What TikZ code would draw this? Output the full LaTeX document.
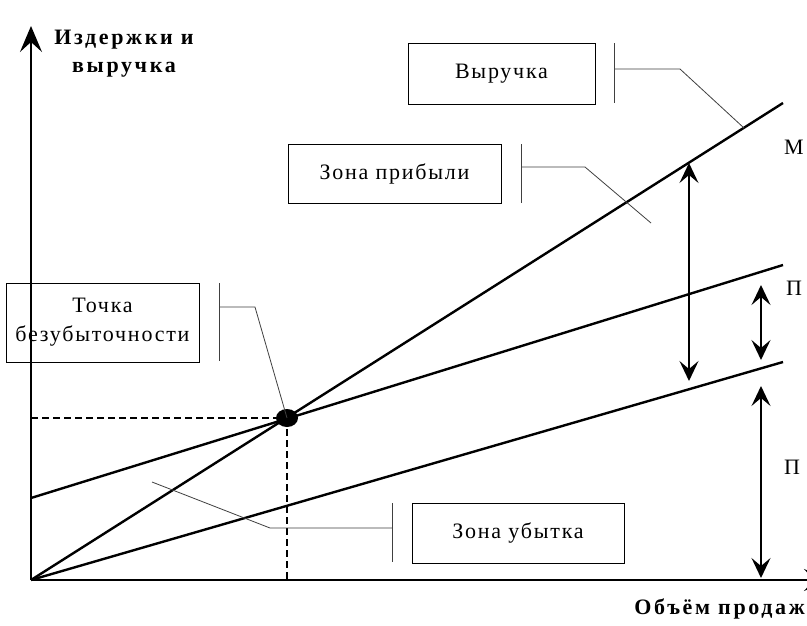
\documentclass[tikz,border=0pt]{standalone}
\usepackage{fontspec}
\setmainfont{Liberation Serif}
\newfontfamily\boxfont[LetterSpace=8]{Liberation Serif}
\newfontfamily\axfont[LetterSpace=12]{Liberation Serif}
\usetikzlibrary{arrows.meta}
\tikzset{
  mainline/.style={line width=2.4pt},
  axisline/.style={line width=1.2pt},
  callout/.style={line width=0.8pt, draw=black!75},
  boxnode/.style={draw, line width=1pt, inner sep=0pt, align=center,
    font=\boxfont\fontsize{22}{29}\selectfont},
  axlabel/.style={font=\axfont\bfseries\fontsize{22}{28}\selectfont, align=center, inner sep=0pt},
  zlabel/.style={font=\fontsize{22}{24}\selectfont, anchor=west, inner sep=0pt},
  dbl/.style={line width=1.9pt, {Stealth[length=20pt,width=19pt,inset=8pt]}-{Stealth[length=20pt,width=19pt,inset=8pt]}},
  axtip/.style={-{Stealth[length=26pt,width=22pt,inset=10pt]}},
  dashline/.style={line width=1.3pt, dash pattern=on 7pt off 4pt}
}
\begin{document}
\begin{tikzpicture}[x=1pt,y=-1pt]
\useasboundingbox (0,0) rectangle (807,625);
\clip (0,0) rectangle (807,625);
\fill[white] (0,0) rectangle (807,625);
% key points
\coordinate (O) at (31,580);
\coordinate (ytop) at (31,26);
\coordinate (xend) at (830,580);
\coordinate (R) at (783,103);
\coordinate (F) at (31,498);
\coordinate (T) at (783,265);
\coordinate (V) at (783,362);
\coordinate (ybep) at (31,418);
\coordinate (xbep) at (287,580);
% axes
\draw[axisline, axtip] (O) -- (ytop);
\draw[axisline, axtip] (O) -- (xend);
% main lines
\draw[mainline] (O) -- (R);
\draw[mainline] (F) -- (T);
\draw[mainline] (O) -- (V);
% break-even point
\coordinate (bep) at (287,418);
\fill (bep) ellipse [x radius=11pt, y radius=9pt];
\draw[dashline] (ybep) -- (bep);
\draw[dashline] (bep) -- (xbep);
% axis labels
\node[axlabel] (ylab) at (124,54) {Издержки и\\выручка};
\node[axlabel, anchor=east] (xlab) at (805,609) {Объём продаж};
% boxes
\node[boxnode, minimum width=187pt, minimum height=61pt] (bRev) at (501.5,73.5) {Выручка};
\node[boxnode, minimum width=213pt, minimum height=59pt] (bProf) at (394.5,173.5) {Зона прибыли};
\node[boxnode, minimum width=193pt, minimum height=79pt] (bBep) at (102.5,322.5) {Точка\\безубыточности};
\node[boxnode, minimum width=212pt, minimum height=60pt] (bLoss) at (518,533) {Зона убытка};
% callouts
\coordinate (c1a) at (614,43); \coordinate (c1b) at (614,103);
\coordinate (c1m) at (614,69); \coordinate (c1k) at (680,69); \coordinate (c1e) at (744,128);
\draw[callout] (c1a) -- (c1b);
\draw[callout] (c1m) -- (c1k) -- (c1e);
\coordinate (c2a) at (521,144); \coordinate (c2b) at (521,203);
\coordinate (c2m) at (521,167); \coordinate (c2k) at (585,167); \coordinate (c2e) at (651,223);
\draw[callout] (c2a) -- (c2b);
\draw[callout] (c2m) -- (c2k) -- (c2e);
\coordinate (c3a) at (219,283); \coordinate (c3b) at (219,361);
\coordinate (c3m) at (219,307); \coordinate (c3k) at (255,307);
\draw[callout] (c3a) -- (c3b);
\draw[callout] (c3m) -- (c3k) -- (bep);
\coordinate (c4a) at (392,503); \coordinate (c4b) at (392,562);
\coordinate (c4m) at (392,528); \coordinate (c4k) at (270,528); \coordinate (c4e) at (152,482);
\draw[callout] (c4a) -- (c4b);
\draw[callout] (c4m) -- (c4k) -- (c4e);
% double arrows
\coordinate (a1t) at (689,163); \coordinate (a1b) at (689,381);
\coordinate (a2t) at (761,285); \coordinate (a2b) at (761,360);
\coordinate (a3t) at (761,386); \coordinate (a3b) at (761,578);
\draw[dbl] (a1t) -- (a1b);
\draw[dbl] (a2t) -- (a2b);
\draw[dbl] (a3t) -- (a3b);
% zone labels
\node[zlabel] (lM) at (784,147) {М};
\node[zlabel] (lP1) at (786,288) {П};
\node[zlabel] (lP2) at (784,467) {П};
\end{tikzpicture}
\end{document}
